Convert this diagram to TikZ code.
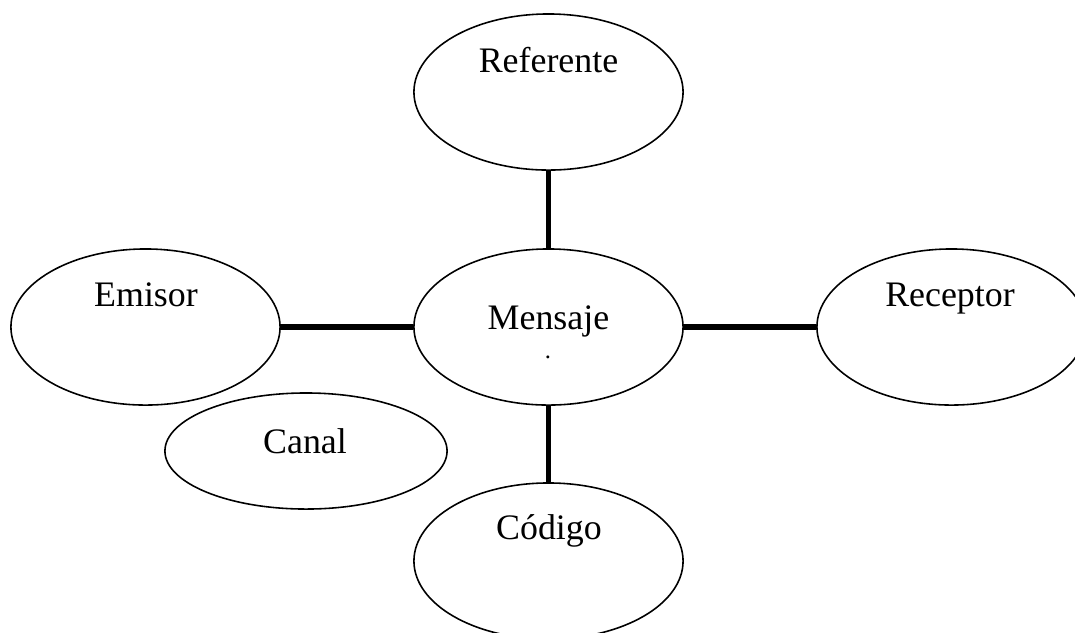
\documentclass[tikz,border=0pt]{standalone}
\usepackage{fontspec}
\setmainfont{Liberation Serif}
\usetikzlibrary{shapes.geometric}
\tikzset{
x=0.01cm, y=-0.01cm, % one unit is one pixel of the page, y grows downwards
blob/.style={ellipse, draw, line width=0.45pt, minimum width=2.69cm, minimum height=1.56cm, inner sep=0pt}, % the ovals
word/.style={anchor=base, inner sep=0pt, font=\fontsize{10.2pt}{12pt}\selectfont}, % the text in the ovals
link/.style={line width=1.6pt}, % the thick connectors
}

\begin{document}
\begin{tikzpicture}
      \useasboundingbox (0,0) rectangle (1075,632);
      \node[blob] (ref) at (548.5,92) {};
      \node[blob] (men) at (548.5,327) {};
      \node[blob] (emi) at (145.5,327) {};
      \node[blob] (rec) at (951.5,327) {};
      \node[blob] (cod) at (548.5,561) {};
      \node[blob, minimum width=2.82cm, minimum height=1.16cm] (can) at (306,451) {};
      \node[word] (reft) at (548.5,72) {Referente};
      \node[word] (ment) at (548.5,329) {Mensaje};
      \node[word, font=\fontsize{7pt}{8pt}\selectfont] (mend) at (548,358) {.};
      \node[word] (emit) at (146,306) {Emisor};
      \node[word] (rect) at (950,306) {Receptor};
      \node[word] (cant) at (305,453) {Canal};
      \node[word] (codt) at (549,539) {Código};
      \draw[link] (ref) -- (men)
      (emi) -- (men)
      (men) -- (rec)
      (men) -- (cod);
    \end{tikzpicture}
\end{document}
